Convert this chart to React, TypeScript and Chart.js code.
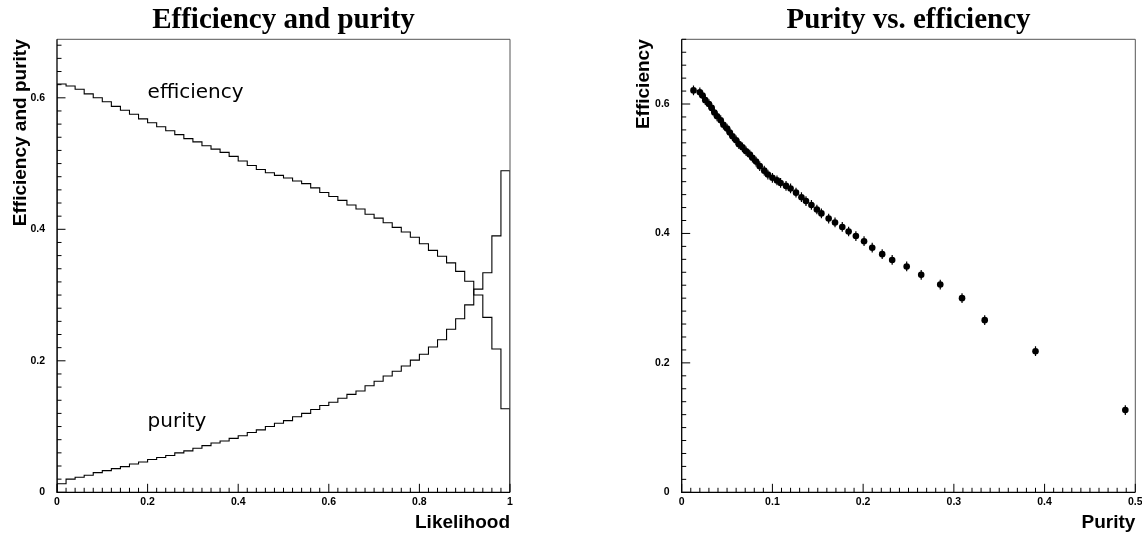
import React, { useEffect, useRef } from 'react';
import { Chart, registerables } from 'chart.js';

Chart.register(...registerables);

// ---- data ----
const LIKELIHOOD_MIN = 0;
const LIKELIHOOD_MAX = 1;

// efficiency per likelihood-cut bin (50 bins of 0.02)
const EFFICIENCY = [
  0.621, 0.618, 0.613, 0.606, 0.600, 0.594, 0.587, 0.581, 0.575, 0.568,
  0.562, 0.556, 0.550, 0.544, 0.538, 0.533, 0.527, 0.522, 0.517, 0.511,
  0.504, 0.497, 0.491, 0.486, 0.482, 0.478, 0.4735, 0.4695, 0.463, 0.456,
  0.450, 0.444, 0.437, 0.431, 0.423, 0.417, 0.410, 0.403, 0.396, 0.388,
  0.378, 0.368, 0.359, 0.349, 0.336, 0.321, 0.300, 0.266, 0.218, 0.127,
];

// purity per likelihood-cut bin
const PURITY = [
  0.013, 0.020, 0.023, 0.026, 0.030, 0.033, 0.036, 0.039, 0.043, 0.046,
  0.050, 0.053, 0.056, 0.060, 0.063, 0.067, 0.071, 0.075, 0.078, 0.082,
  0.086, 0.091, 0.095, 0.100, 0.105, 0.109, 0.115, 0.120, 0.126, 0.132,
  0.137, 0.143, 0.149, 0.154, 0.162, 0.169, 0.177, 0.184, 0.192, 0.201,
  0.210, 0.221, 0.232, 0.248, 0.264, 0.285, 0.309, 0.334, 0.390, 0.489,
];

// vertical error on efficiency in the right panel
const EFFICIENCY_ERROR = 0.0075;

// text labels drawn inside the left panel (data coordinates)
const HIST_LABELS = [
  { text: 'efficiency', x: 0.2, y: 0.6 },
  { text: 'purity', x: 0.2, y: 0.1 },
];

// axis ranges
const LEFT_X_RANGE = [0, 1];
const LEFT_Y_RANGE = [0, 0.689];
const RIGHT_X_RANGE = [0, 0.5];
const RIGHT_Y_RANGE = [0, 0.7];

// ---- helpers ----
function histPoints(values: number[]) {
  const n = values.length;
  const w = (LIKELIHOOD_MAX - LIKELIHOOD_MIN) / n;
  const pts: { x: number; y: number }[] = [{ x: LIKELIHOOD_MIN, y: 0 }];
  for (let i = 0; i < n; i++) {
    pts.push({ x: LIKELIHOOD_MIN + i * w, y: values[i] });
    pts.push({ x: LIKELIHOOD_MIN + (i + 1) * w, y: values[i] });
  }
  pts.push({ x: LIKELIHOOD_MAX, y: 0 });
  return pts;
}

const SANS = 'Liberation Sans, Arial, Helvetica, sans-serif';
const SERIF = 'Liberation Serif, Times New Roman, serif';
const tickFont = { family: SANS, size: 10.5, weight: 'bold' as const, lineHeight: 1.2 };
const axisTitleFont = { family: SANS, size: 19, weight: 'bold' as const, lineHeight: 1 };
const mainTitleFont = { family: SERIF, size: 29, weight: 'bold' as const, lineHeight: 1 };

function framePlugin(xMajor: number, xMinor: number, yMajor: number, yMinor: number) {
  return {
    id: 'rootFrame',
    afterDatasetsDraw(chart: any) {
      const { ctx, chartArea: a, scales } = chart;
      const xs = scales.x;
      const ys = scales.y;
      ctx.save();
      ctx.strokeStyle = '#555';
      ctx.lineWidth = 1;
      ctx.beginPath();
      ctx.moveTo(a.left, a.top);
      ctx.lineTo(a.right, a.top);
      ctx.lineTo(a.right, a.bottom);
      ctx.stroke();
      ctx.strokeStyle = '#000';
      ctx.lineWidth = 1.3;
      ctx.beginPath();
      ctx.moveTo(a.left, a.top);
      ctx.lineTo(a.left, a.bottom);
      ctx.lineTo(a.right, a.bottom);
      ctx.stroke();
      ctx.lineWidth = 1;
      ctx.beginPath();
      const isMajor = (v: number, step: number) => Math.abs(v / step - Math.round(v / step)) < 1e-6;
      for (let i = 0; ; i++) {
        const v = xs.min + i * xMinor;
        if (v > xs.max + 1e-9) break;
        const len = isMajor(v, xMajor) ? 8.5 : 4.5;
        const px = xs.getPixelForValue(v);
        ctx.moveTo(px, a.bottom);
        ctx.lineTo(px, a.bottom - len);
      }
      for (let i = 0; ; i++) {
        const v = ys.min + i * yMinor;
        if (v > ys.max + 1e-9) break;
        const len = isMajor(v, yMajor) ? 8.5 : 4.5;
        const py = ys.getPixelForValue(v);
        ctx.moveTo(a.left, py);
        ctx.lineTo(a.left + len, py);
      }
      ctx.stroke();
      ctx.restore();
    },
  };
}

const labelPlugin = {
  id: 'histLabels',
  afterDatasetsDraw(chart: any) {
    const { ctx, scales } = chart;
    ctx.save();
    ctx.fillStyle = '#000';
    ctx.font = '20px "DejaVu Sans", sans-serif';
    ctx.textAlign = 'left';
    ctx.textBaseline = 'alphabetic';
    for (const l of HIST_LABELS) {
      ctx.fillText(l.text, scales.x.getPixelForValue(l.x), scales.y.getPixelForValue(l.y));
    }
    ctx.restore();
  },
};

const errorBarPlugin = {
  id: 'errBars',
  beforeDatasetsDraw(chart: any) {
    const { ctx, scales } = chart;
    ctx.save();
    ctx.strokeStyle = '#000';
    ctx.lineWidth = 1.2;
    ctx.beginPath();
    for (let i = 0; i < EFFICIENCY.length; i++) {
      const px = scales.x.getPixelForValue(PURITY[i]);
      ctx.moveTo(px, scales.y.getPixelForValue(EFFICIENCY[i] - EFFICIENCY_ERROR));
      ctx.lineTo(px, scales.y.getPixelForValue(EFFICIENCY[i] + EFFICIENCY_ERROR));
    }
    ctx.stroke();
    ctx.restore();
  },
};

const fmtTick = (v: number | string) => String(Number(Number(v).toFixed(3)));

function axisOptions(
  range: number[],
  step: number,
  title: string,
  titlePadding: any,
  tickPadding: number,
  fit: (s: any) => void,
) {
  return {
    type: 'linear' as const,
    min: range[0],
    max: range[1],
    grid: { display: false, drawTicks: false, tickLength: 0 },
    border: { display: false },
    ticks: {
      stepSize: step,
      includeBounds: false,
      autoSkip: false,
      maxRotation: 0,
      padding: tickPadding,
      color: '#000',
      font: tickFont,
      callback: fmtTick,
    },
    title: {
      display: true,
      text: title,
      align: 'end' as const,
      color: '#000',
      font: axisTitleFont,
      padding: titlePadding,
    },
    afterFit: (s: any) => {
      fit(s);
      s.paddingLeft = 0;
      s.paddingRight = 0;
      s.paddingTop = 0;
      s.paddingBottom = 0;
    },
  };
}

export default function App() {
  const leftRef = useRef<HTMLCanvasElement>(null);
  const rightRef = useRef<HTMLCanvasElement>(null);

  useEffect(() => {
    const left = new Chart(leftRef.current as HTMLCanvasElement, {
      type: 'line',
      data: {
        datasets: [
          {
            label: 'efficiency',
            data: histPoints(EFFICIENCY),
            borderColor: '#000',
            borderWidth: 1.1,
            pointRadius: 0,
            tension: 0,
            fill: false,
          },
          {
            label: 'purity',
            data: histPoints(PURITY),
            borderColor: '#000',
            borderWidth: 1.1,
            pointRadius: 0,
            tension: 0,
            fill: false,
          },
        ],
      },
      options: {
        animation: false,
        responsive: false,
        devicePixelRatio: 1,
        parsing: false as any,
        layout: { padding: { left: 0, right: 61, top: 0, bottom: 0 } },
        plugins: {
          legend: { display: false },
          tooltip: { enabled: false },
          title: {
            display: true,
            text: 'Efficiency and purity',
            fullSize: false,
            color: '#000',
            font: mainTitleFont,
            padding: { top: 6.5, bottom: 3.8 },
          },
        },
        scales: {
          x: axisOptions(LEFT_X_RANGE, 0.2, 'Likelihood', { top: 0, bottom: 1 }, 4, (s: any) => {
            s.height = 40.7;
          }),
          y: axisOptions(LEFT_Y_RANGE, 0.2, 'Efficiency and purity', { top: 11, bottom: 0 }, 12, (s: any) => {
            s.width = 57;
          }),
        },
      } as any,
      plugins: [framePlugin(0.2, 0.02, 0.2, 0.02), labelPlugin],
    });

    const right = new Chart(rightRef.current as HTMLCanvasElement, {
      type: 'scatter',
      data: {
        datasets: [
          {
            label: 'Purity vs. efficiency',
            data: PURITY.map((p, i) => ({ x: p, y: EFFICIENCY[i] })),
            pointStyle: 'circle',
            pointRadius: 3.3,
            pointBackgroundColor: '#000',
            pointBorderWidth: 0,
            showLine: false,
          },
        ],
      },
      options: {
        animation: false,
        responsive: false,
        devicePixelRatio: 1,
        layout: { padding: { left: 54, right: 6.7, top: 0, bottom: 0 } },
        plugins: {
          legend: { display: false },
          tooltip: { enabled: false },
          title: {
            display: true,
            text: 'Purity vs. efficiency',
            fullSize: false,
            color: '#000',
            font: mainTitleFont,
            padding: { top: 6.5, bottom: 3.8 },
          },
        },
        scales: {
          x: axisOptions(RIGHT_X_RANGE, 0.1, 'Purity', { top: 0, bottom: 1 }, 4, (s: any) => {
            s.height = 40.7;
          }),
          y: axisOptions(RIGHT_Y_RANGE, 0.2, 'Efficiency', { top: 9, bottom: 0 }, 12, (s: any) => {
            s.width = 56.7;
          }),
        },
      } as any,
      plugins: [framePlugin(0.1, 0.01, 0.2, 0.02), errorBarPlugin],
    });

    return () => {
      left.destroy();
      right.destroy();
    };
  }, []);

  return (
    <div style={{ position: 'absolute', left: 0, top: 0, width: 1142, height: 533, background: '#fff' }}>
      <canvas ref={leftRef} width={571} height={533} style={{ position: 'absolute', left: 0, top: 0 }} />
      <canvas ref={rightRef} width={571} height={533} style={{ position: 'absolute', left: 571, top: 0 }} />
    </div>
  );
}
